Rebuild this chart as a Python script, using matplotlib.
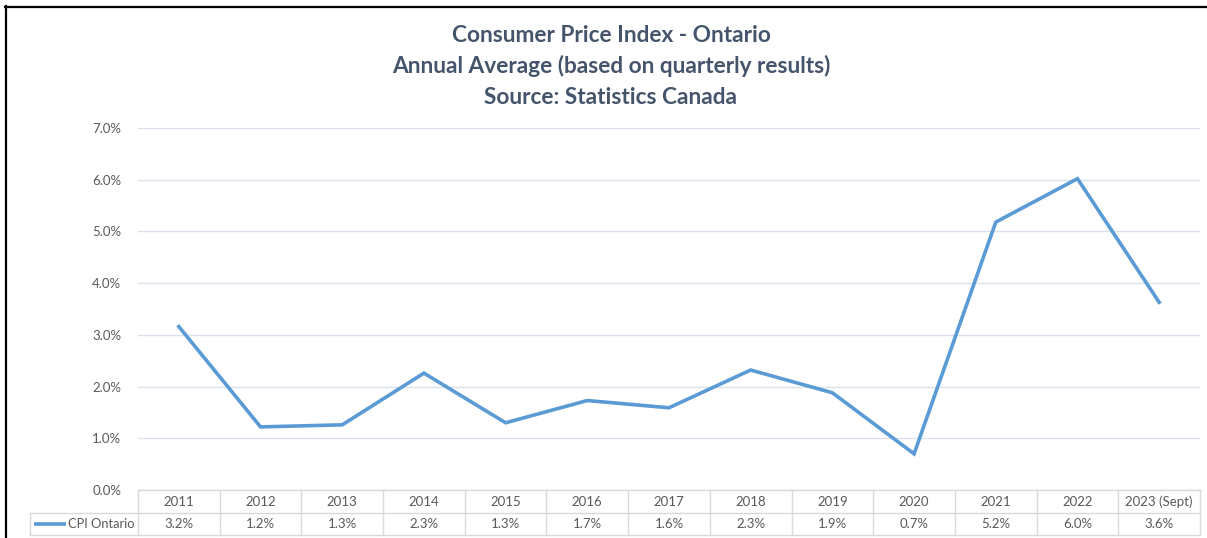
import matplotlib
matplotlib.use('Agg')
import matplotlib.pyplot as plt
from matplotlib.lines import Line2D
from matplotlib.transforms import blended_transform_factory

years = ['2011', '2012', '2013', '2014', '2015', '2016', '2017',
         '2018', '2019', '2020', '2021', '2022', '2023 (Sept)']
cpi_ontario = [3.16, 1.22, 1.26, 2.26, 1.30, 1.73, 1.59,
               2.32, 1.88, 0.70, 5.18, 6.02, 3.63]
series_name = 'CPI Ontario'
title_lines = ['Consumer Price Index - Ontario',
               'Annual Average (based on quarterly results)',
               'Source: Statistics Canada']

FONT = ['Lato', 'DejaVu Sans']
plt.rcParams['font.family'] = FONT

W, H = 1207, 538
fig = plt.figure(figsize=(W / 100, H / 100), dpi=100)

# plot area in pixels
left_px, right_px, top_px, bottom_px = 138, 1200, 128, 490
ax = fig.add_axes([left_px / W, 1 - bottom_px / H,
                   (right_px - left_px) / W, (bottom_px - top_px) / H])

line_color = '#5B9BD5'
grid_color = '#D9E1EC'
text_color = '#595959'
title_color = '#44546A'

x = list(range(len(years)))
ax.plot(x, cpi_ontario, color=line_color, linewidth=2.6, solid_joinstyle='miter')

ax.set_xlim(-0.5, len(years) - 0.5)
ax.set_ylim(0, 7)
ax.set_yticks([i for i in range(8)])
ax.set_yticklabels([f'{i:.1f}%' for i in range(8)], color=text_color, fontsize=9.5)
ax.tick_params(axis='y', length=0, pad=12)
ax.set_xticks([])
ax.grid(axis='y', color=grid_color, linewidth=1)
ax.set_axisbelow(True)
for s in ax.spines.values():
    s.set_visible(False)

# data table under the plot
px_y = (bottom_px - top_px)
row1 = -23 / px_y
row2 = -45 / px_y
col_w = (right_px - left_px) / len(years)
label_left = -0.5 - (left_px - 30) / col_w

trans = blended_transform_factory(ax.transData, ax.transAxes)
tbl = dict(color='#D9D9D9', linewidth=1, transform=trans, clip_on=False)

ax.plot([-0.5, len(years) - 0.5], [0, 0], **tbl)
ax.plot([label_left, len(years) - 0.5], [row1, row1], **tbl)
ax.plot([label_left, len(years) - 0.5], [row2, row2], **tbl)
ax.plot([label_left, label_left], [row1, row2], **tbl)
for i in range(len(years) + 1):
    ax.plot([i - 0.5, i - 0.5], [0, row2], **tbl)

for i, (yr, v) in enumerate(zip(years, cpi_ontario)):
    ax.text(i, row1 / 2, yr, transform=trans, ha='center', va='center',
            fontsize=9.5, color=text_color)
    ax.text(i, (row1 + row2) / 2, f'{v:.1f}%', transform=trans, ha='center',
            va='center', fontsize=9.5, color=text_color)

# legend key + series name in the row label cell
key_x0 = -0.5 - (left_px - 34) / col_w
key_x1 = -0.5 - (left_px - 66) / col_w
ax.plot([key_x0, key_x1], [(row1 + row2) / 2] * 2, color=line_color,
        linewidth=2.6, transform=trans, clip_on=False, solid_capstyle='butt')
ax.text(-0.5 - (left_px - 68) / col_w, (row1 + row2) / 2, series_name,
        transform=trans, ha='left', va='center', fontsize=9.3, color=text_color)

# title
for k, t in enumerate(title_lines):
    fig.text(611 / W, 1 - (35 + k * 31) / H, t, ha='center', va='center',
             fontsize=16.3, fontweight='bold', color=title_color)

# outer frame (top and left only visible)
fig.add_artist(Line2D([5 / W, 1], [1 - 6.5 / H, 1 - 6.5 / H],
                      transform=fig.transFigure, color='black', linewidth=1.6))
fig.add_artist(Line2D([5.5 / W, 5.5 / W], [0, 1 - 6 / H],
                      transform=fig.transFigure, color='black', linewidth=1.6))

fig.savefig('out.png', dpi=100, facecolor='white')
